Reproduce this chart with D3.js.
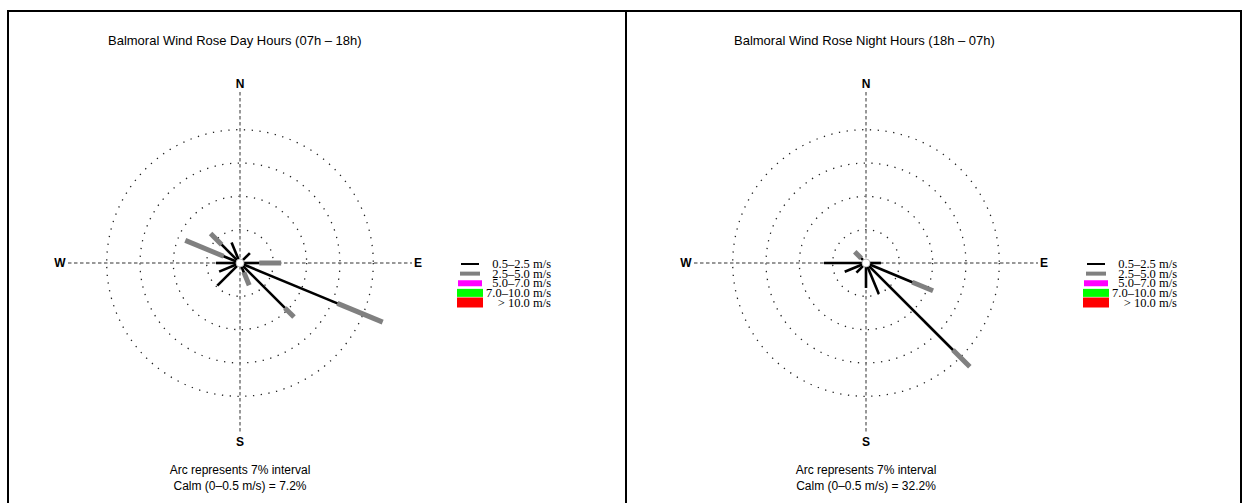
<!DOCTYPE html>
<html>
<head>
<meta charset="utf-8">
<script src="https://cdn.jsdelivr.net/npm/d3@7"></script>
<style>
  body { margin: 0; background: #fff; }
  svg text { fill: #000; }
</style>
</head>
<body>
<div id="chart"></div>
<script>
// 16 compass sectors, clockwise from north
const directions = ["N", "NNE", "NE", "ENE", "E", "ESE", "SE", "SSE",
                    "S", "SSW", "SW", "WSW", "W", "WNW", "NW", "NNW"];

// speed classes shown in the legend
const speedBins = ["0.5\u20132.5 m/s", "2.5\u20135.0 m/s", "5.0\u20137.0 m/s", "7.0\u201310.0 m/s", "> 10.0 m/s"];
const binColors = ["#000000", "#808080", "#ff00ff", "#00ff00", "#ff0000"];

// frequencies (%) per direction, day hours
const dayLow  = [0, 0, 2.1, 0, 3.2, 21.3, 12.5, 1.3, 0, 0, 5.9, 3.9, 4.2, 2.9, 4.6, 3.8];
const dayMid  = [0, 0, 0, 0, 4.6, 10.3, 2.7, 2.9, 0, 0, 0, 0, 0, 8.7, 3.3, 0];

// frequencies (%) per direction, night hours
const nightLow = [0, 0, 0, 0, 2.3, 9.7, 25.0, 6.2, 4.4, 0, 2.0, 4.0, 8.0, 0, 0.6, 0];
const nightMid = [0, 0, 0, 0, 0, 4.7, 5.0, 0, 0, 0, 0, 0, 0, 0, 1.9, 0];

const rings = [7, 14, 21, 28];

const panels = [
  { title: "Balmoral Wind Rose Day Hours (07h \u2013 18h)", low: dayLow, mid: dayMid, calm: "7.2%", dx: 0 },
  { title: "Balmoral Wind Rose Night Hours (18h \u2013 07h)", low: nightLow, mid: nightMid, calm: "32.2%", dx: 626 }
];

const width = 1245;
const height = 503;

const svg = d3.select("#chart").append("svg")
    .attr("width", width)
    .attr("height", height);

svg.append("rect").attr("width", width).attr("height", height).attr("fill", "#fff");

// frame
svg.append("path")
    .attr("d", "M8,520 V11 H1241 V520 M626,11 V520")
    .attr("fill", "none")
    .attr("stroke", "#000")
    .attr("stroke-width", 2);

const r0 = 4;  // calm circle radius
const rScale = d3.scaleLinear().domain([0, 28]).range([0, 133.3]);

const sans = "'Liberation Sans', Arial, sans-serif";
const serif = "'Liberation Serif', 'Times New Roman', serif";

panels.forEach(p => {
  const g = svg.append("g").attr("transform", `translate(${p.dx},0)`);
  const cx = 240, cy = 263;

  g.append("text")
      .attr("x", 108).attr("y", 45)
      .attr("font-family", sans).attr("font-size", 13)
      .text(p.title);

  const rose = g.append("g").attr("transform", `translate(${cx},${cy})`);

  // dotted rings
  rose.selectAll("circle.ring")
    .data(rings)
    .join("circle")
      .attr("class", "ring")
      .attr("r", d => rScale(d))
      .attr("fill", "none")
      .attr("stroke", "#222")
      .attr("stroke-width", 1.3)
      .attr("stroke-dasharray", "1.3,6.5");

  // dashed axes
  rose.append("path")
      .attr("d", "M-172,0 H172 M0,-171 V171")
      .attr("stroke", "#777")
      .attr("stroke-width", 1.5)
      .attr("stroke-dasharray", "3.5,2.5");

  // compass labels
  const lab = [["N", 0, -175], ["E", 178, 4], ["S", 0, 183], ["W", -180, 4]];
  rose.selectAll("text.cmp")
    .data(lab)
    .join("text")
      .attr("class", "cmp")
      .attr("x", d => d[1]).attr("y", d => d[2])
      .attr("text-anchor", "middle")
      .attr("font-family", sans).attr("font-size", 12).attr("font-weight", "bold")
      .text(d => d[0]);

  // spokes: inner class then stacked second class
  const spokes = directions.map((dir, i) => {
    const a = i * 22.5 * Math.PI / 180;
    return { dir, a, low: p.low[i], mid: p.mid[i] };
  });

  const seg = (d, from, to) => {
    const s = Math.sin(d.a), c = -Math.cos(d.a);
    const ra = r0 + rScale(from), rb = r0 + rScale(to);
    return `M${ra * s},${ra * c} L${rb * s},${rb * c}`;
  };

  rose.selectAll("path.mid")
    .data(spokes.filter(d => d.mid > 0))
    .join("path")
      .attr("class", "mid")
      .attr("d", d => seg(d, d.low, d.low + d.mid))
      .attr("stroke", binColors[1])
      .attr("stroke-width", 5);

  rose.selectAll("path.low")
    .data(spokes.filter(d => d.low > 0))
    .join("path")
      .attr("class", "low")
      .attr("d", d => seg(d, 0, d.low))
      .attr("stroke", binColors[0])
      .attr("stroke-width", 2.6);

  rose.append("circle")
      .attr("r", r0)
      .attr("fill", "#fff")
      .attr("stroke", "#aaa")
      .attr("stroke-width", 0.8);

  // legend
  const sym = [
    { x0: 460, x1: 478, h: 2 },
    { x0: 459, x1: 479, h: 4 },
    { x0: 457, x1: 481, h: 6 },
    { x0: 456, x1: 482, h: 8 },
    { x0: 456, x1: 482, h: 10 }
  ];
  const ly = d3.scalePoint().domain(speedBins).range([264, 302.5]);
  const leg = g.append("g");
  leg.selectAll("rect")
    .data(speedBins)
    .join("rect")
      .attr("x", (d, i) => sym[i].x0 + 1)
      .attr("width", (d, i) => sym[i].x1 - sym[i].x0)
      .attr("y", (d, i) => ly(d) - sym[i].h / 2)
      .attr("height", (d, i) => sym[i].h)
      .attr("fill", (d, i) => binColors[i]);
  leg.selectAll("text")
    .data(speedBins)
    .join("text")
      .attr("x", 551)
      .attr("y", d => ly(d) + 4)
      .attr("text-anchor", "end")
      .attr("font-family", serif).attr("font-size", 12.5)
      .text(d => d);

  // notes
  g.append("text")
      .attr("x", cx).attr("y", 474)
      .attr("text-anchor", "middle")
      .attr("font-family", sans).attr("font-size", 12)
      .text("Arc represents 7% interval");
  g.append("text")
      .attr("x", cx).attr("y", 490)
      .attr("text-anchor", "middle")
      .attr("font-family", sans).attr("font-size", 12)
      .text(`Calm (0\u20130.5 m/s) = ${p.calm}`);
});
</script>
</body>
</html>
